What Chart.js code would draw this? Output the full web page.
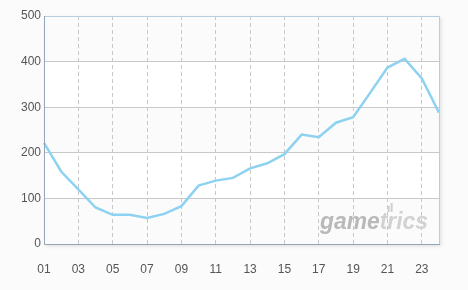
<!DOCTYPE html>
<html>
<head>
<meta charset="utf-8">
<script src="https://cdn.jsdelivr.net/npm/chart.js@4/dist/chart.umd.min.js"></script>
<style>
  html, body { margin: 0; padding: 0; background: #fbfbfb; }
  #wrap { width: 468px; height: 290px; }
</style>
</head>
<body>
<div id="wrap"><canvas id="chart" width="468" height="290"></canvas></div>
<script>
// hours 01..24
const hours = ['01','02','03','04','05','06','07','08','09','10','11','12',
               '13','14','15','16','17','18','19','20','21','22','23','24'];
const users = [222, 159, 120, 80, 64, 64, 57, 66, 83, 128, 139, 145,
               166, 177, 197, 240, 234, 266, 278, 332, 387, 406, 363, 288];
const yTicks = [0, 100, 200, 300, 400, 500];

// Background bands, shadow and frame around the plot
const plotFrame = {
    id: 'plotFrame',
    beforeDraw(chart) {
        const { ctx, chartArea: a, scales: { y } } = chart;
        ctx.save();
        ctx.shadowColor = 'rgba(0,0,0,0.12)';
        ctx.shadowBlur = 4;
        ctx.shadowOffsetX = 2;
        ctx.shadowOffsetY = 2;
        ctx.fillStyle = '#ffffff';
        ctx.fillRect(a.left, a.top, a.right - a.left, a.bottom - a.top);
        ctx.restore();
        ctx.save();
        for (let i = 0; i < yTicks.length - 1; i++) {
            const top = y.getPixelForValue(yTicks[i + 1]);
            const bot = y.getPixelForValue(yTicks[i]);
            ctx.fillStyle = i % 2 === 0 ? '#fbfbfb' : '#ffffff';
            ctx.fillRect(a.left, top, a.right - a.left, bot - top);
        }
        ctx.restore();
    },
    afterDatasetsDraw(chart) {
        const { ctx, chartArea: a } = chart;
        ctx.save();
        ctx.lineWidth = 1;
        // top and right: light blue
        ctx.strokeStyle = '#b7cde0';
        ctx.beginPath();
        ctx.moveTo(a.left, a.top + 0.5);
        ctx.lineTo(a.right + 0.5, a.top + 0.5);
        ctx.lineTo(a.right + 0.5, a.bottom);
        ctx.stroke();
        // left and bottom axes: grey blue
        ctx.strokeStyle = '#93a6b8';
        ctx.beginPath();
        ctx.moveTo(a.left + 0.5, a.top);
        ctx.lineTo(a.left + 0.5, a.bottom + 0.5);
        ctx.lineTo(a.right + 1, a.bottom + 0.5);
        ctx.stroke();
        ctx.restore();
    },
    beforeDatasetsDraw(chart) {
        // watermark
        const { ctx, chartArea: a } = chart;
        ctx.save();
        ctx.font = 'italic bold 23px "Liberation Sans"';
        const w1 = ctx.measureText('game').width;
        const w2 = ctx.measureText('trics').width;
        const sx = 108 / (w1 + w2);
        ctx.translate(a.right - 119, a.bottom - 15);
        ctx.scale(sx, 1);
        ctx.fillStyle = '#b9b9b9';
        ctx.fillText('game', 0, 0);
        ctx.fillStyle = '#d2d2d2';
        ctx.fillText('trics', w1, 0);
        ctx.fillStyle = '#cfcfcf';
        ctx.fillRect(w1 + 8, -23, 2, 6);
        ctx.fillRect(w1 + 11, -26, 2, 9);
        ctx.restore();
    }
};

new Chart(document.getElementById('chart'), {
    type: 'line',
    data: {
        labels: hours,
        datasets: [{
            data: users,
            borderColor: '#8dd2f1',
            borderWidth: 2.5,
            pointRadius: 0,
            tension: 0,
            fill: false
        }]
    },
    options: {
        responsive: false,
        animation: false,
        layout: { padding: { top: 16, right: 29, left: 0, bottom: 0 } },
        plugins: { legend: { display: false }, tooltip: { enabled: false } },
        scales: {
            x: {
                offset: false,
                afterFit(scale) { scale.height = 46; },
                border: { display: false, dash: [4, 3] },
                grid: {
                    drawTicks: false,
                    color: ctx => (ctx.index % 2 === 0 && ctx.index > 0 && ctx.index < hours.length - 1) ? '#c8c8c8' : 'rgba(0,0,0,0)'
                },
                ticks: {
                    autoSkip: false,
                    maxRotation: 0,
                    padding: 18,
                    color: '#555',
                    font: { family: '"Liberation Sans"', size: 12 },
                    callback: (v, i) => i % 2 === 0 ? hours[i] : ''
                }
            },
            y: {
                min: 0,
                max: 500,
                afterFit(scale) { scale.width = 44; },
                border: { display: false },
                grid: {
                    drawTicks: false,
                    color: ctx => (ctx.tick.value > 0 && ctx.tick.value < 500) ? '#c8c8c8' : 'rgba(0,0,0,0)'
                },
                ticks: {
                    stepSize: 100,
                    padding: 3,
                    color: '#555',
                    font: { family: '"Liberation Sans"', size: 12 }
                }
            }
        }
    },
    plugins: [plotFrame]
});
</script>
</body>
</html>
